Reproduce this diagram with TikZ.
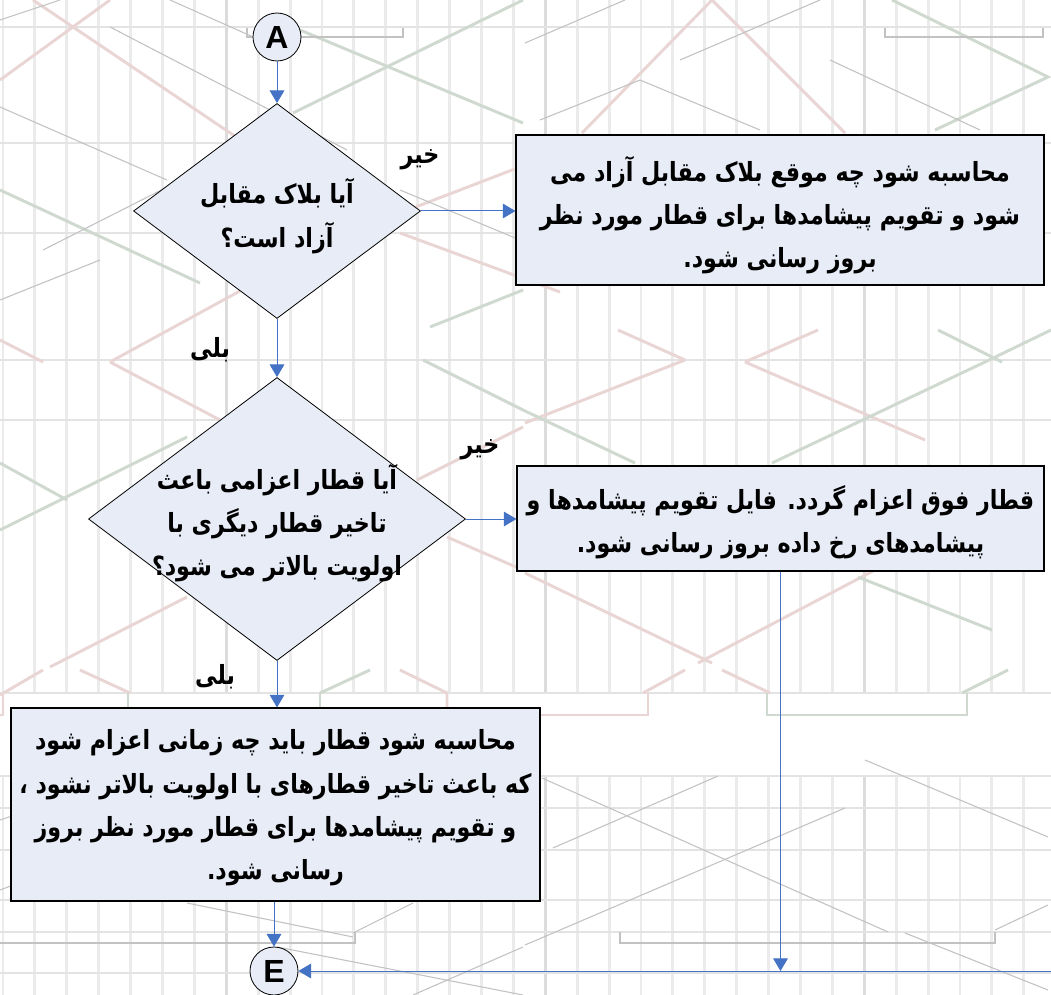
\documentclass[tikz,border=0pt]{standalone}
\usepackage{fontspec}
\setmainfont{Liberation Sans}
\newfontfamily\fa[Script=Arabic,FakeStretch=0.84]{DejaVu Sans}
\TeXXeTstate=1
\usetikzlibrary{shapes.geometric,arrows.meta}
\definecolor{fillb}{HTML}{E7ECF6}
\definecolor{arr}{HTML}{4472C4}
\definecolor{gridv}{HTML}{EBEBEB}
\definecolor{gridvd}{HTML}{DCDCDC}
\definecolor{gridh}{HTML}{E3E3E3}
\definecolor{pinkl}{HTML}{EAD5D5}
\definecolor{greenl}{HTML}{CFD9CF}
\definecolor{grayl}{HTML}{C2C2C2}
\tikzset{
  box/.style={draw=black, line width=0.8pt, fill=fillb, rectangle, inner sep=0pt},
  dia/.style={draw=black, line width=0.6pt, fill=fillb, diamond, inner sep=0pt, aspect=1},
  conn/.style={draw=arr, line width=0.75pt},
  flow/.style={conn, -{Triangle[length=9.5pt,width=11pt]}},
  fatxt/.style={font=\fa\bfseries\fontsize{19.8}{32.5}\selectfont, align=center, inner sep=0pt},
  lbl/.style={font=\fa\bfseries\fontsize{19.8}{22}\selectfont, inner sep=0pt},
  conc/.style={circle, draw=black, line width=0.6pt, fill=fillb, minimum size=36pt, inner sep=0pt, font=\bfseries\fontsize{24}{24}\selectfont},
  gv/.style={draw=gridv, line width=2.2pt},
  gvd/.style={draw=gridvd, line width=2.2pt},
  gh/.style={draw=gridh, line width=1.6pt},
  pk/.style={draw=pinkl, line width=2.2pt},
  gr/.style={draw=greenl, line width=2.2pt},
  gy/.style={draw=grayl, line width=0.8pt},
  gyb/.style={draw=grayl, line width=1.8pt},
}
\begin{document}
\begin{tikzpicture}[x=0.75pt,y=-0.75pt]
\useasboundingbox (0,0) rectangle (1051,995);
\fill[white] (0,0) rectangle (1051,995);
% ---------- background timetable grid ----------
\begin{scope}
\clip (0,0) rectangle (1051,995);
\foreach \i in {0,...,32}{
  \pgfmathsetmacro\xx{3+31.9*\i}
  \pgfmathtruncatemacro\m{mod(\i,10)}
  \ifnum\m=7
    \draw[gvd] (\xx,0) -- (\xx,693) (\xx,776) -- (\xx,995);
  \else
    \draw[gv] (\xx,0) -- (\xx,693) (\xx,776) -- (\xx,995);
  \fi
}
\foreach \yy in {27,143,233,360,420,693,776,808,850,900,932,973}
  \draw[gh] (0,\yy) -- (1051,\yy);
% pink train paths
\draw[pk] (0,80) -- (110,0);
\draw[pk] (33,0) -- (300,180);
\draw[pk] (110,362) -- (260,280);
\draw[pk] (0,340) -- (43,362);
\draw[pk] (110,362) -- (220,420);
\draw[pk] (400,233) -- (560,292);
\draw[pk] (400,213) -- (520,167);
\draw[pk] (582,133) -- (712,0) -- (845,133);
\draw[pk] (525,423) -- (685,360);
\draw[pk] (618,330) -- (685,360);
\draw[pk] (745,362) -- (925,440);
\draw[pk] (745,362) -- (818,330);
\draw[pk] (417,480) -- (523,427);
\draw[pk] (447,537) -- (523,570);
\draw[pk] (698,663) -- (875,570);
\draw[pk] (525,573) -- (712,663);
\draw[pk] (50,667) -- (187,597);
\draw[pk] (0,695) -- (43,670);
\draw[pk] (80,670) -- (130,693);
\draw[pk] (400,670) -- (447,693) -- (447,715);
\draw[pk] (643,693) -- (685,670);
\draw[pk] (722,670) -- (770,693);
\draw[pk] (3,693) -- (3,715) -- (0,715);
\draw[pk] (540,715) -- (648,715) -- (648,693);
% green train paths
\draw[gr] (0,190) -- (200,283);
\draw[gr] (293,113) -- (523,0);
\draw[gr] (300,30) -- (523,123);
\draw[gr] (430,327) -- (523,290);
\draw[gr] (892,0) -- (1048,77) -- (935,130);
\draw[gr] (0,463) -- (67,500);
\draw[gr] (0,530) -- (187,437);
\draw[gr] (423,360) -- (523,410) -- (635,463);
\draw[gr] (772,463) -- (985,362) -- (1051,330);
\draw[gr] (938,330) -- (1002,362);
\draw[gr] (858,577) -- (992,630);
\draw[gr] (320,693) -- (370,670);
\draw[gr] (962,693) -- (1008,670);
\draw[gr] (128,693) -- (128,715);
\draw[gr] (320,693) -- (320,715);
\draw[gr] (767,693) -- (767,715) -- (967,715) -- (967,693);
% thin gray train paths
\draw[gy] (0,107) -- (167,180);
\draw[gy] (43,250) -- (187,177);
\draw[gy] (110,27) -- (347,150);
\draw[gy] (0,20) -- (60,0);
\draw[gy] (170,0) -- (260,40);
\draw[gy] (525,43) -- (625,0);
\draw[gy] (540,120) -- (640,80) -- (760,130);
\draw[gy] (680,60) -- (820,0);
\draw[gy] (830,60) -- (980,130);
\draw[gy] (400,190) -- (520,240);
\draw[gy] (0,300) -- (100,260);
\draw[gy] (553,848) -- (718,776);
\draw[gy] (542,778) -- (888,932);
\draw[gy] (525,945) -- (845,808);
\draw[gy] (865,760) -- (1048,837);
\draw[gy] (995,930) -- (1048,905);
\draw[gy] (905,933) -- (1048,990);
\draw[gy] (187,903) -- (353,937);
\draw[gy] (353,933) -- (413,903);
\draw[gy] (277,947) -- (523,995);
\draw[gy] (413,995) -- (523,947);
\draw[gy] (0,820) -- (60,800);
\draw[gy] (0,890) -- (40,875);
% brackets
\draw[gyb] (247,28) -- (247,37) -- (403,37) -- (403,28);
\draw[gyb] (885,28) -- (885,37) -- (1043,37) -- (1043,28);
\draw[gyb] (0,943) -- (355,943) -- (355,932);
\draw[gyb] (620,932) -- (620,943) -- (995,943) -- (995,932);
\end{scope}
% ---------- flowchart ----------
\node[conc] (A) at (277,37) {A};
\node[dia, minimum width=215.25pt, minimum height=161.25pt] (d1) at (277,211) {};
\node[fatxt] (d1t) at (277,216) {\beginR آیا بلاک مقابل\endR\\\beginR آزاد است؟\endR};
\node[dia, minimum width=282.75pt, minimum height=212.25pt] (d2) at (277,519) {};
\node[fatxt] (d2t) at (277,523) {\beginR آیا قطار اعزامی باعث\endR\\\beginR تاخیر قطار دیگری با\endR\\\beginR اولویت بالاتر می شود؟\endR};
\node[box, minimum width=396pt, minimum height=112.5pt] (b1) at (780,210) {};
\node[fatxt] (b1t) at (780,215) {\beginR محاسبه شود چه موقع بلاک مقابل آزاد می\endR\\\beginR شود و تقویم پیشامدها برای قطار مورد نظر\endR\\\beginR بروز رسانی شود.\endR};
\node[box, minimum width=395.25pt, minimum height=78.75pt] (b2) at (780.5,518.5) {};
\node[fatxt] (b2t) at (780.5,522) {\beginR قطار فوق اعزام گردد. فایل تقویم پیشامدها و\endR\\\beginR پیشامدهای رخ داده بروز رسانی شود.\endR};
\node[box, minimum width=396.75pt, minimum height=144.75pt] (b3) at (275.5,804.5) {};
\node[fatxt] (b3t) at (275.5,808) {\beginR محاسبه شود قطار باید چه زمانی اعزام شود\endR\\\beginR که باعث تاخیر قطارهای با اولویت بالاتر نشود ،\endR\\\beginR و تقویم پیشامدها برای قطار مورد نظر بروز\endR\\\beginR رسانی شود.\endR};
\node[conc] (E) at (274,971) {E};
% labels
\node[lbl] (n1) at (420,160) {\beginR خیر\endR};
\node[lbl] (y1) at (210,350) {\beginR بلی\endR};
\node[lbl] (n2) at (480,450) {\beginR خیر\endR};
\node[lbl] (y2) at (215,677) {\beginR بلی\endR};
% connectors
\coordinate (rin) at (1051,971);
\draw[flow] (A) -- (d1.north);
\draw[flow] (d1.east) -- (b1.west |- d1.east);
\draw[flow] (d1.south) -- (d2.north);
\draw[flow] (d2.east) -- (b2.west |- d2.east);
\draw[flow] (d2.south) -- (d2.south |- b3.north);
\draw[flow] (b3.south -| E) -- (E.north);
\draw[flow] (b2.south) -- (b2.south |- E.east);
\draw[flow] (rin) -- (E.east);
\end{tikzpicture}
\end{document}
